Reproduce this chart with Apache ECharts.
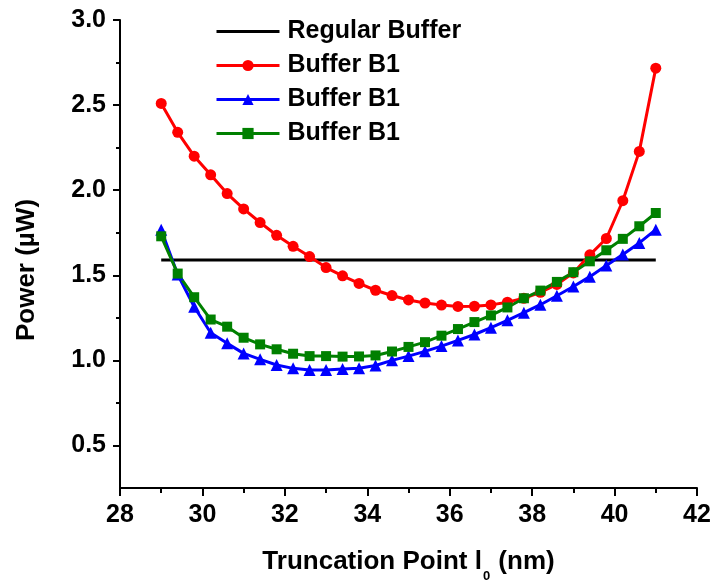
<!DOCTYPE html>
<html>
<head>
<meta charset="utf-8">
<script src="https://cdn.jsdelivr.net/npm/echarts@6/dist/echarts.min.js"></script>
<style>html,body{margin:0;padding:0;background:#fff;}#c{width:715px;height:588px;}</style>
</head>
<body>
<div id="c"></div>
<script>
var xValues = [29.0,29.4,29.8,30.2,30.6,31.0,31.4,31.8,32.2,32.6,33.0,33.4,33.8,34.2,34.6,35.0,35.4,35.8,36.2,36.6,37.0,37.4,37.8,38.2,38.6,39.0,39.4,39.8,40.2,40.6,41.0];
var regularX = [29.0, 41.0];
var regularBuffer = [1.59, 1.59];
var redB1 = [2.51,2.34,2.20,2.09,1.98,1.89,1.81,1.735,1.67,1.61,1.545,1.497,1.452,1.412,1.381,1.355,1.337,1.325,1.317,1.318,1.326,1.342,1.365,1.40,1.446,1.514,1.62,1.716,1.938,2.228,2.717];
var blueB1 = [1.768,1.504,1.315,1.162,1.10,1.041,1.006,0.973,0.953,0.943,0.943,0.949,0.954,0.97,1.0,1.025,1.053,1.084,1.117,1.152,1.192,1.235,1.28,1.327,1.38,1.434,1.492,1.557,1.622,1.69,1.768];
var greenB1 = [1.729,1.510,1.371,1.24,1.198,1.133,1.094,1.065,1.039,1.025,1.025,1.022,1.023,1.029,1.052,1.079,1.107,1.145,1.184,1.225,1.264,1.311,1.365,1.41,1.461,1.518,1.582,1.647,1.714,1.788,1.866];
var seriesKeys = ['regular','red','blue','green'];
var legendLabels = {regular:'Regular Buffer', red:'Buffer B1', blue:'Buffer B1', green:'Buffer B1'};
var yMajorTicks = [0.5,1.0,1.5,2.0,2.5,3.0];
var yMinorTicks = [0.75,1.25,1.75,2.25,2.75];

function pairs(xs, ys){ return xs.map(function(x,i){ return [x, ys[i]]; }); }

var FONT = "'Liberation Sans', Arial, sans-serif";
var chart = echarts.init(document.getElementById('c'), null, {renderer:'canvas'});
chart.setOption({
  animation: false,
  backgroundColor: '#fff',
  grid: {left: 120, right: 18, top: 20, bottom: 99, containLabel: false},
  legend: {
    orient: 'vertical', left: 210, top: 14,
    itemWidth: 63, itemHeight: 14, itemGap: 9,
    lineStyle: {width: 3},
    data: [
      {name: 'regular', icon: 'path://M0,0H63V3H0Z', itemStyle: {color: '#000'}},
      'red', 'blue', 'green'
    ],
    formatter: function(n){ return legendLabels[n]; },
    textStyle: {fontFamily: FONT, fontWeight: 'bold', fontSize: 25, color: '#000', lineHeight: 25, padding: [0,0,0,3]}
  },
  xAxis: {
    type: 'value', min: 28, max: 42, interval: 2,
    name: '{m|Truncation Point l}{s|0}{m| (nm)}',
    nameLocation: 'middle', nameGap: 61,
    nameTextStyle: {fontFamily: FONT, fontWeight: 'bold', fontSize: 26, color: '#000',
      rich: {
        m: {fontFamily: FONT, fontWeight: 'bold', fontSize: 26, color: '#000', lineHeight: 26, verticalAlign: 'top'},
        s: {fontFamily: FONT, fontWeight: 'bold', fontSize: 13, color: '#000', lineHeight: 13, verticalAlign: 'top', padding: [21,1,0,1]}
      }},
    axisLine: {show: true, onZero: false, lineStyle: {color: '#000', width: 2}},
    axisTick: {show: true, inside: false, length: 8, lineStyle: {color: '#000', width: 2}},
    minorTick: {show: true, splitNumber: 2, length: 5, lineStyle: {color: '#000', width: 2}},
    splitLine: {show: false},
    axisLabel: {fontFamily: FONT, fontWeight: 'bold', fontSize: 25, color: '#000', margin: 15}
  },
  yAxis: [{
    type: 'value', min: 0.25, max: 3.0, position: 'left',
    name: 'Power (µW)', nameLocation: 'middle', nameGap: 80, nameRotate: 90,
    nameTextStyle: {fontFamily: FONT, fontWeight: 'bold', fontSize: 26, color: '#000', padding: [0,32,0,0]},
    axisLine: {show: true, onZero: false, lineStyle: {color: '#000', width: 2}},
    axisTick: {show: true, inside: false, length: 7, customValues: yMajorTicks, lineStyle: {color: '#000', width: 2}},
    splitLine: {show: false},
    axisLabel: {fontFamily: FONT, fontWeight: 'bold', fontSize: 25, color: '#000', margin: 14,
      customValues: yMajorTicks,
      formatter: function(v){ return v.toFixed(1); }}
  }, {
    type: 'value', min: 0.25, max: 3.0, position: 'left', offset: 0,
    axisLine: {show: false},
    axisTick: {show: true, inside: false, length: 4, customValues: yMinorTicks, lineStyle: {color: '#000', width: 2}},
    axisLabel: {show: false},
    splitLine: {show: false}
  }],
  series: [
    {name: 'regular', type: 'line', data: pairs(regularX, regularBuffer), symbol: 'none',
     lineStyle: {color: '#000', width: 3}, itemStyle: {color: '#000'}},
    {name: 'red', type: 'line', data: pairs(xValues, redB1), symbol: 'circle', symbolSize: 11,
     lineStyle: {color: '#ff0000', width: 3}, itemStyle: {color: '#ff0000'}},
    {name: 'blue', type: 'line', data: pairs(xValues, blueB1), symbol: 'triangle', symbolSize: 12,
     lineStyle: {color: '#0000ff', width: 3}, itemStyle: {color: '#0000ff'}},
    {name: 'green', type: 'line', data: pairs(xValues, greenB1), symbol: 'rect', symbolSize: 10,
     lineStyle: {color: '#008000', width: 3}, itemStyle: {color: '#008000'}}
  ]
});
</script>
</body>
</html>
